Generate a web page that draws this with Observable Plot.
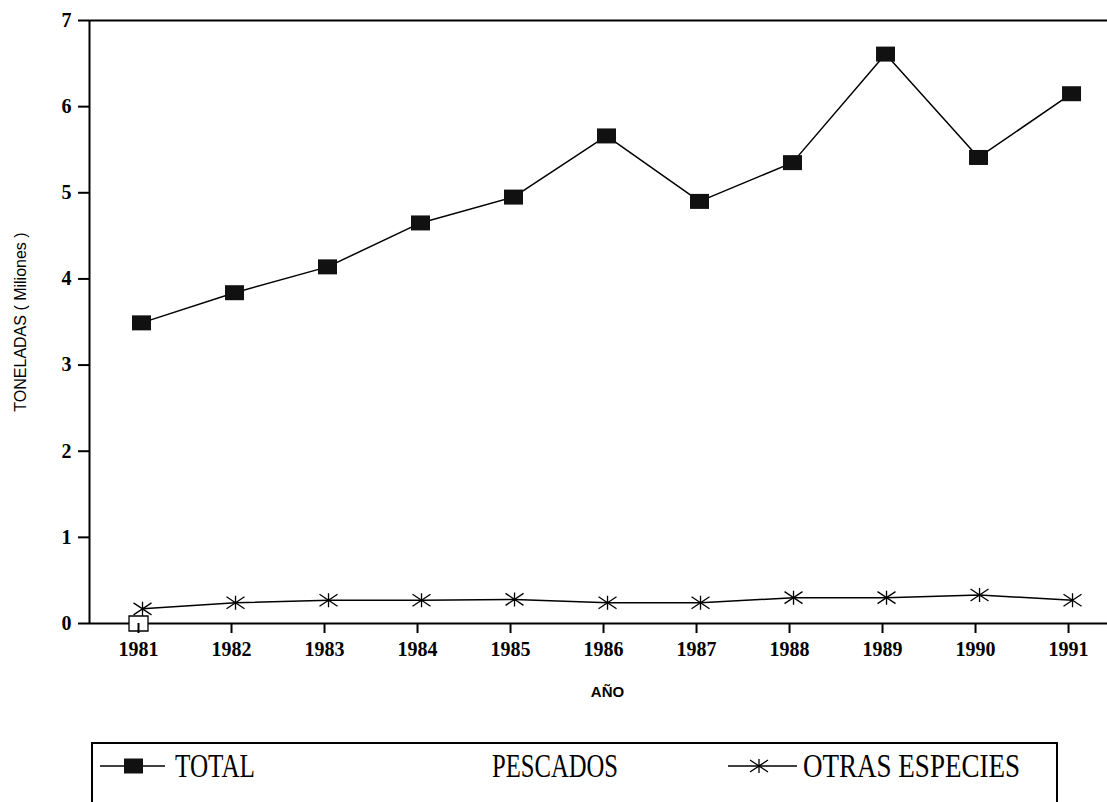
<!DOCTYPE html>
<html>
<head>
<meta charset="utf-8">
<script src="https://cdn.jsdelivr.net/npm/d3@7"></script>
<script src="https://cdn.jsdelivr.net/npm/@observablehq/plot@0.6"></script>
<style>
  body { margin: 0; background: #fff; }
  #chart { position: relative; width: 1107px; height: 802px; overflow: hidden; background: #fff; }
  #chart svg { display: block; }
</style>
</head>
<body>
<div id="chart"></div>
<script>
// ---- data ----
const years = [1981, 1982, 1983, 1984, 1985, 1986, 1987, 1988, 1989, 1990, 1991];
const total = [3.49, 3.84, 4.14, 4.65, 4.95, 5.66, 4.90, 5.35, 6.61, 5.41, 6.15];
const otrasEspecies = [0.17, 0.24, 0.27, 0.27, 0.28, 0.24, 0.24, 0.30, 0.30, 0.33, 0.27];
const pescadosYears = [1981];
const pescados = [0];
const yTicks = [0, 1, 2, 3, 4, 5, 6, 7];
const yTitle = "TONELADAS ( Miliones )";
const xTitle = "AÑO";
const legendLabels = ["TOTAL", "PESCADOS", "OTRAS ESPECIES"];

// ---- tables ----
const totalData = years.map((year, i) => ({year, value: total[i]}));
const otrasData = years.map((year, i) => ({year, value: otrasEspecies[i]}));
const pescData = pescadosYears.map((year, i) => ({year, value: pescados[i]}));

// ---- symbols ----
const rectSym = {draw(ctx) { ctx.rect(-9.5, -7.5, 19, 15); }};
const starSym = {draw(ctx) {
  ctx.moveTo(0, -7); ctx.lineTo(0, 7);
  ctx.moveTo(-9, -6); ctx.lineTo(9, 6);
  ctx.moveTo(-9, 6); ctx.lineTo(9, -6);
}};

const serif = "'Liberation Serif', 'Times New Roman', serif";
const sans = "'Liberation Sans', Arial, sans-serif";
const xDomain = [1980.473, 1991.419];

const plot = Plot.plot({
  width: 1107,
  height: 720,
  marginLeft: 89,
  marginRight: 0,
  marginTop: 20,
  marginBottom: 97,
  style: {background: "#fff", color: "#000", overflow: "visible"},
  x: {type: "linear", domain: xDomain, label: null},
  y: {domain: [0, 7], label: null},
  marks: [
    Plot.ruleY([0, 7], {stroke: "#000", strokeWidth: 2}),
    Plot.ruleX([xDomain[0]], {y1: 0, y2: 7, stroke: "#000", strokeWidth: 2}),
    Plot.axisY(yTicks, {
      tickSize: 11, tickPadding: 7, tickFormat: d => String(d), label: null,
      fontSize: 20, fontWeight: "bold", fontFamily: serif, strokeWidth: 2, stroke: "#000", fill: "#000"
    }),
    Plot.dot(pescData, {x: "year", y: "value", symbol: rectSym, fill: "#fff", stroke: "#000", strokeWidth: 1.3}),
    Plot.axisX(years, {
      tickSize: 10, tickPadding: 8, tickFormat: d => String(d), label: null,
      fontSize: 20, fontWeight: "bold", fontFamily: serif, strokeWidth: 2, stroke: "#000", fill: "#000"
    }),
    Plot.line(totalData, {x: "year", y: "value", stroke: "#000", strokeWidth: 1.5, dx: 3}),
    Plot.dot(totalData, {x: "year", y: "value", symbol: rectSym, fill: "#111", stroke: "none", dx: 3}),
    Plot.line(otrasData, {x: "year", y: "value", stroke: "#000", strokeWidth: 1.5, dx: 4}),
    Plot.dot(otrasData, {x: "year", y: "value", symbol: starSym, fill: "none", stroke: "#000", strokeWidth: 1.3, dx: 4}),
    Plot.text([yTitle], {text: d => d, frameAnchor: "left", textAnchor: "middle", rotate: -90, dx: -69, fontSize: 16, fontFamily: sans, fill: "#000"}),
    Plot.text([xTitle], {text: d => d, frameAnchor: "bottom", dy: 73, dx: 9, fontSize: 15, fontWeight: "bold", fontFamily: sans, fill: "#000"})
  ]
});

const chart = document.getElementById("chart");
chart.appendChild(plot);

// ---- legend (below the plot) ----
const lg = d3.select(chart).append("svg")
  .attr("width", 1107).attr("height", 82)
  .style("display", "block");
const boxTop = 23;
lg.append("path")
  .attr("d", `M92,82V${boxTop}H1057V82`)
  .attr("fill", "none").attr("stroke", "#000").attr("stroke-width", 2);
const midY = 46, baseY = 57;
// TOTAL marker
lg.append("line").attr("x1", 100).attr("x2", 165).attr("y1", midY).attr("y2", midY)
  .attr("stroke", "#000").attr("stroke-width", 1.5);
lg.append("rect").attr("x", 124).attr("y", midY - 7.5).attr("width", 19).attr("height", 15).attr("fill", "#111");
// OTRAS marker
lg.append("line").attr("x1", 728).attr("x2", 797).attr("y1", midY).attr("y2", midY)
  .attr("stroke", "#000").attr("stroke-width", 1.5);
lg.append("path").attr("d", `M759,${midY-7}V${midY+7}M750,${midY-6}L768,${midY+6}M750,${midY+6}L768,${midY-6}`)
  .attr("fill", "none").attr("stroke", "#000").attr("stroke-width", 1.3);
const legendPos = [[175, 80], [492, 126], [803, 217]];
legendLabels.forEach((lab, i) => {
  lg.append("text")
    .attr("x", legendPos[i][0]).attr("y", baseY)
    .attr("textLength", legendPos[i][1]).attr("lengthAdjust", "spacingAndGlyphs")
    .attr("font-family", serif).attr("font-size", 33).attr("fill", "#000")
    .text(lab);
});
</script>
</body>
</html>
